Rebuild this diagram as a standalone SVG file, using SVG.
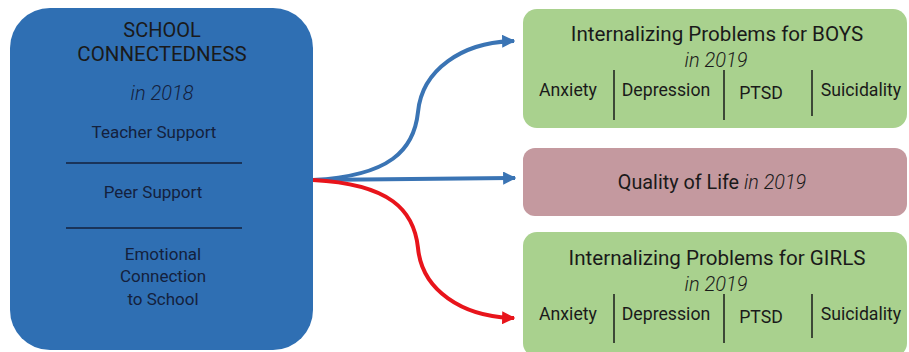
<svg xmlns="http://www.w3.org/2000/svg" width="909" height="352" viewBox="0 0 909 352">
  <style>
    text { font-family: Roboto, "Liberation Sans", sans-serif; }
    .src { fill: #2f6fb3; }
    .green { fill: #a9d18e; }
    .pink { fill: #c4999f; }
    .lt { fill: #14213d; text-anchor: middle; }
    .dk { fill: #1a1a1a; text-anchor: middle; }
    .it { font-style: italic; font-weight: 300; }
    .rule { stroke: #14213d; stroke-width: 1.5; }
    .div { stroke: #1a1a1a; stroke-width: 1.5; }
    .blue { fill: none; stroke: #3a74b4; stroke-width: 4; }
    .red { fill: none; stroke: #e8141b; stroke-width: 4; }
  </style>
  <defs>
    <marker id="ahBlue" viewBox="0 0 10 10" refX="9" refY="5" markerWidth="3.3" markerHeight="3.3" orient="auto" markerUnits="strokeWidth">
      <path d="M0,0 L10,5 L0,10 z" fill="#3a74b4"/>
    </marker>
    <marker id="ahRed" viewBox="0 0 10 10" refX="9" refY="5" markerWidth="3.3" markerHeight="3.3" orient="auto" markerUnits="strokeWidth">
      <path d="M0,0 L10,5 L0,10 z" fill="#e8141b"/>
    </marker>
  </defs>

  <rect width="909" height="352" fill="#ffffff"/>

  <!-- connectors -->
  <g id="connectors">
    <path class="blue" d="M313,180 C390,176 414,150 418,112 C422,70 462,42 514,41" marker-end="url(#ahBlue)"/>
    <path class="blue" d="M313,180 L515,178" marker-end="url(#ahBlue)"/>
    <path class="red" d="M313,180 C390,184 414,210 418,248 C422,290 462,317 514,318" marker-end="url(#ahRed)"/>
  </g>

  <!-- source node -->
  <g id="school-connectedness">
    <rect class="src" x="10" y="8" width="303" height="342" rx="40" ry="40"/>
    <text class="dk" x="162" y="37" font-size="20">SCHOOL</text>
    <text class="dk" x="162" y="61" font-size="20.5">CONNECTEDNESS</text>
    <text class="lt it" x="162" y="100" font-size="20">in 2018</text>
    <text class="lt" x="154" y="138" font-size="17">Teacher Support</text>
    <line class="rule" x1="66" y1="163" x2="242" y2="163"/>
    <text class="lt" x="153" y="198" font-size="17">Peer Support</text>
    <line class="rule" x1="66" y1="228" x2="242" y2="228"/>
    <text class="lt" x="163" y="260" font-size="17">Emotional</text>
    <text class="lt" x="163" y="282" font-size="17">Connection</text>
    <text class="lt" x="163" y="305" font-size="17">to School</text>
  </g>

  <!-- boys outcome -->
  <g id="boys">
    <rect class="green" x="523" y="9" width="384" height="119" rx="14" ry="14"/>
    <text class="dk" x="717" y="41" font-size="20.6">Internalizing Problems for BOYS</text>
    <text class="dk it" x="716" y="67" font-size="20">in 2019</text>
    <text class="dk" x="568" y="96" font-size="17.7">Anxiety</text>
    <text class="dk" x="666" y="96" font-size="17.7">Depression</text>
    <text class="dk" x="761" y="99" font-size="17.7">PTSD</text>
    <text class="dk" x="861" y="96" font-size="17.7">Suicidality</text>
    <line class="div" x1="614" y1="70" x2="614" y2="120"/>
    <line class="div" x1="724" y1="70" x2="724" y2="120"/>
    <line class="div" x1="812" y1="70" x2="812" y2="116"/>
  </g>

  <!-- quality of life outcome -->
  <g id="quality-of-life">
    <rect class="pink" x="523" y="148" width="384" height="68" rx="12" ry="12"/>
    <text class="dk" x="712" y="189" font-size="19.8">Quality of Life <tspan class="it">in 2019</tspan></text>
  </g>

  <!-- girls outcome -->
  <g id="girls">
    <rect class="green" x="523" y="232" width="384" height="125" rx="14" ry="14"/>
    <text class="dk" x="717" y="265" font-size="20.6">Internalizing Problems for GIRLS</text>
    <text class="dk it" x="716" y="291" font-size="20">in 2019</text>
    <text class="dk" x="568" y="320" font-size="17.7">Anxiety</text>
    <text class="dk" x="666" y="320" font-size="17.7">Depression</text>
    <text class="dk" x="761" y="323" font-size="17.7">PTSD</text>
    <text class="dk" x="861" y="320" font-size="17.7">Suicidality</text>
    <line class="div" x1="614" y1="294" x2="614" y2="343"/>
    <line class="div" x1="724" y1="294" x2="724" y2="343"/>
    <line class="div" x1="812" y1="294" x2="812" y2="338"/>
  </g>
</svg>
